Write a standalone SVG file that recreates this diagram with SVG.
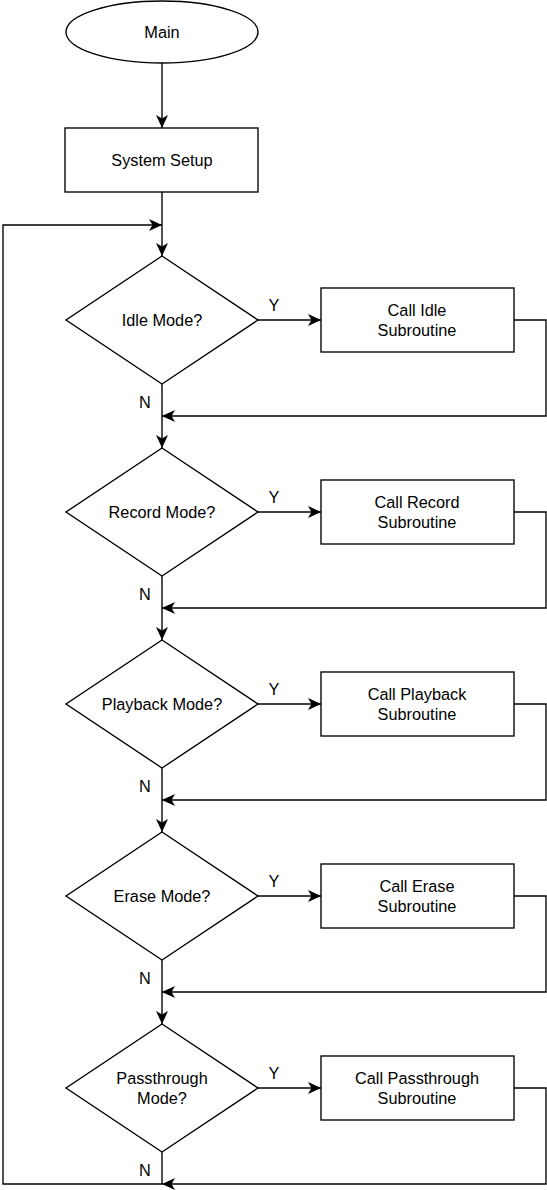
<svg xmlns="http://www.w3.org/2000/svg" width="547" height="1190" viewBox="0 0 547 1190">
<style>
.s{fill:#fff;stroke:#000;stroke-width:1.36}
.c{fill:none;stroke:#000;stroke-width:1.36}
text{font-family:"Liberation Sans",Arial,sans-serif;font-size:16.3px;fill:#000}
.m{text-anchor:middle}
</style>
<defs>
<marker id="a" viewBox="0 0 13 13" refX="13" refY="6.5" markerWidth="13" markerHeight="13" markerUnits="userSpaceOnUse" orient="auto">
<path d="M0,0.5 L13,6.5 L0,12.5 L3.5,6.5 Z" fill="#000"/>
</marker>
</defs>
<g id="connectors">
<path class="c" d="M162,63 V128" marker-end="url(#a)"/>
<path class="c" d="M162,192 V256" marker-end="url(#a)"/>
<path class="c" d="M162,1184 H3 V225 H162" marker-end="url(#a)"/>
<path class="c" d="M258,320 H321" marker-end="url(#a)"/>
<path class="c" d="M514,320 H546 V416 H162" marker-end="url(#a)"/>
<path class="c" d="M162,384 V448" marker-end="url(#a)"/>
<path class="c" d="M258,512 H321" marker-end="url(#a)"/>
<path class="c" d="M514,512 H546 V608 H162" marker-end="url(#a)"/>
<path class="c" d="M162,576 V640" marker-end="url(#a)"/>
<path class="c" d="M258,704 H321" marker-end="url(#a)"/>
<path class="c" d="M514,704 H546 V800 H162" marker-end="url(#a)"/>
<path class="c" d="M162,768 V832" marker-end="url(#a)"/>
<path class="c" d="M258,896 H321" marker-end="url(#a)"/>
<path class="c" d="M514,896 H546 V992 H162" marker-end="url(#a)"/>
<path class="c" d="M162,960 V1024" marker-end="url(#a)"/>
<path class="c" d="M258,1088 H321" marker-end="url(#a)"/>
<path class="c" d="M514,1088 H546 V1184 H162" marker-end="url(#a)"/>
<path class="c" d="M162,1152 V1184"/>
<text x="274" y="311" class="m">Y</text>
<text x="145" y="408" class="m">N</text>
<text x="274" y="503" class="m">Y</text>
<text x="145" y="600" class="m">N</text>
<text x="274" y="695" class="m">Y</text>
<text x="145" y="792" class="m">N</text>
<text x="274" y="887" class="m">Y</text>
<text x="145" y="984" class="m">N</text>
<text x="274" y="1079" class="m">Y</text>
<text x="145" y="1176" class="m">N</text>
</g>
<g id="main"><ellipse class="s" cx="162" cy="32" rx="96" ry="31"/><text x="162" y="38" class="m">Main</text></g>
<g id="setup"><rect class="s" x="65" y="128" width="193" height="64"/><text x="162" y="166" class="m">System Setup</text></g>
<g id="idle"><path class="s" d="M162,256 L258,320 L162,384 L66,320 Z"/><text x="162" y="326" class="m">Idle Mode?</text></g>
<g id="idle-sub"><rect class="s" x="321" y="288" width="193" height="64"/><text x="417" y="316" class="m">Call Idle</text><text x="417" y="335.5" class="m">Subroutine</text></g>
<g id="record"><path class="s" d="M162,448 L258,512 L162,576 L66,512 Z"/><text x="162" y="518" class="m">Record Mode?</text></g>
<g id="record-sub"><rect class="s" x="321" y="480" width="193" height="64"/><text x="417" y="508" class="m">Call Record</text><text x="417" y="527.5" class="m">Subroutine</text></g>
<g id="playback"><path class="s" d="M162,640 L258,704 L162,768 L66,704 Z"/><text x="162" y="710" class="m">Playback Mode?</text></g>
<g id="playback-sub"><rect class="s" x="321" y="672" width="193" height="64"/><text x="417" y="700" class="m">Call Playback</text><text x="417" y="719.5" class="m">Subroutine</text></g>
<g id="erase"><path class="s" d="M162,832 L258,896 L162,960 L66,896 Z"/><text x="162" y="902" class="m">Erase Mode?</text></g>
<g id="erase-sub"><rect class="s" x="321" y="864" width="193" height="64"/><text x="417" y="892" class="m">Call Erase</text><text x="417" y="911.5" class="m">Subroutine</text></g>
<g id="passthrough"><path class="s" d="M162,1024 L258,1088 L162,1152 L66,1088 Z"/><text x="162" y="1084" class="m">Passthrough</text><text x="162" y="1103.5" class="m">Mode?</text></g>
<g id="passthrough-sub"><rect class="s" x="321" y="1056" width="193" height="64"/><text x="417" y="1084" class="m">Call Passthrough</text><text x="417" y="1103.5" class="m">Subroutine</text></g>
</svg>
